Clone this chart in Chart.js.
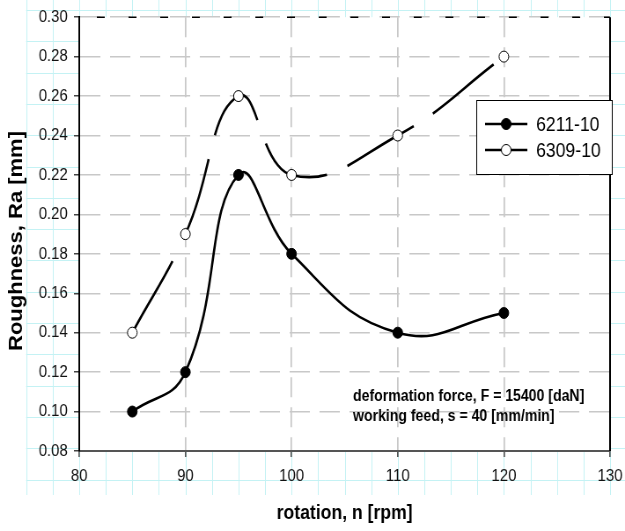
<!DOCTYPE html>
<html>
<head>
<meta charset="utf-8">
<script src="https://cdn.jsdelivr.net/npm/chart.js@4"></script>
<style>
  html, body { margin: 0; padding: 0; background: #fff; overflow: hidden; }
  /* the reference is squeezed horizontally, so draw wider and scale back */
  #wrap { width: 710px; height: 531px; transform: scaleX(0.8803); transform-origin: 0 0; }
</style>
</head>
<body>
<div id="wrap"><canvas id="chart" width="710" height="531" style="width:710px;height:531px"></canvas></div>
<script>
const rotation = [85, 90, 95, 100, 110, 120];
const ra6211 = [0.10, 0.12, 0.22, 0.18, 0.14, 0.15];
const ra6309 = [0.14, 0.19, 0.26, 0.22, 0.24, 0.28];
const seriesNames = ["6211-10", "6309-10"];
const xRange = [80, 130];
const xStep = 10;
const yRange = [0.08, 0.30];
const yStep = 0.02;
const xTitle = "rotation, n [rpm]";
const yTitle = "Roughness, Ra [mm]";
const notes = ["deformation force, F = 15400 [daN]", "working feed, s = 40 [mm/min]"];

const FONT = "'Liberation Sans', Arial, sans-serif";

// graph paper behind everything, white plot area on top of it
const paper = {
  id: "paper",
  beforeDraw(chart) {
    const { ctx, chartArea: a, scales } = chart;
    ctx.save();
    ctx.strokeStyle = "#c4f2f4";
    ctx.lineWidth = 1;
    const x0 = scales.x.getPixelForValue(75);
    for (let v = 75; v <= 130; v += 2.5) {
      const px = Math.round(scales.x.getPixelForValue(v)) + 0.5;
      ctx.beginPath(); ctx.moveTo(px, 0); ctx.lineTo(px, 495); ctx.stroke();
    }
    for (let k = 0; k < 16; k++) {
      const py = Math.round(10 + k * 31.3) + 0.5;
      ctx.beginPath(); ctx.moveTo(x0, py); ctx.lineTo(chart.width, py); ctx.stroke();
    }
    ctx.fillStyle = "#fff";
    ctx.fillRect(a.left, a.top, a.right - a.left, a.bottom - a.top);
    ctx.restore();
  },
  afterDraw(chart) {
    const { ctx, chartArea: a } = chart;
    ctx.save();
    // right border
    ctx.strokeStyle = "#000";
    ctx.lineWidth = 2;
    ctx.beginPath(); ctx.moveTo(a.right, a.top); ctx.lineTo(a.right, a.bottom); ctx.stroke();
    // little black dashes on top edge
    ctx.lineWidth = 1.5;
    ctx.setLineDash([9, 27]);
    ctx.lineDashOffset = -20;
    ctx.beginPath(); ctx.moveTo(a.left, a.top); ctx.lineTo(a.right, a.top); ctx.stroke();
    ctx.setLineDash([]);

    ctx.fillStyle = "#000";
    // y title
    ctx.save();
    ctx.translate(19, 241);
    ctx.rotate(-Math.PI / 2);
    ctx.font = "bold 22px " + FONT;
    ctx.textAlign = "center";
    ctx.textBaseline = "middle";
    ctx.fillText(yTitle, 0, 0);
    ctx.restore();
    // x title
    ctx.font = "bold 20px " + FONT;
    ctx.textAlign = "center";
    ctx.textBaseline = "middle";
    ctx.fillText(xTitle, (a.left + a.right) / 2, 513);
    // notes
    ctx.font = "bold 16px " + FONT;
    ctx.textAlign = "left";
    ctx.textBaseline = "alphabetic";
    notes.forEach((t, i) => ctx.fillText(t, 401, 401 + i * 20));

    // legend box
    ctx.fillStyle = "#fff";
    ctx.fillRect(541, 100, 154, 74);
    ctx.strokeStyle = "#000";
    ctx.lineWidth = 1;
    ctx.strokeRect(541.5, 100.5, 154, 74);
    chart.data.datasets.forEach((ds, i) => {
      const y = 124 + i * 26;
      ctx.strokeStyle = "#000";
      ctx.lineWidth = 2.6;
      ctx.beginPath(); ctx.moveTo(551, y); ctx.lineTo(599, y); ctx.stroke();
      ctx.beginPath();
      ctx.arc(575, y, 5.5, 0, Math.PI * 2);
      ctx.fillStyle = ds.pointBackgroundColor;
      ctx.fill();
      ctx.lineWidth = 1;
      ctx.stroke();
      ctx.fillStyle = "#000";
      ctx.font = "20px " + FONT;
      ctx.textBaseline = "middle";
      ctx.fillText(ds.label, 609, y + 1);
    });
    ctx.restore();
  }
};

new Chart(document.getElementById("chart"), {
  type: "line",
  data: {
    datasets: [
      {
        label: seriesNames[0],
        data: rotation.map((x, i) => ({ x, y: ra6211[i] })),
        borderColor: "#000",
        borderWidth: 2.6,
        pointRadius: 5.5,
        pointBackgroundColor: "#000",
        pointBorderColor: "#000",
        pointBorderWidth: 1,
        tension: 0.45
      },
      {
        label: seriesNames[1],
        data: rotation.map((x, i) => ({ x, y: ra6309[i] })),
        borderColor: "#000",
        borderWidth: 2.6,
        borderDash: [85, 25],
        pointRadius: 5.5,
        pointBackgroundColor: "#fff",
        pointBorderColor: "#000",
        pointBorderWidth: 1,
        tension: 0.45
      }
    ]
  },
  options: {
    responsive: false,
    animation: false,
    layout: { padding: { top: 12, right: 17, left: 0, bottom: 0 } },
    plugins: { legend: { display: false }, tooltip: { enabled: false } },
    scales: {
      x: {
        type: "linear",
        min: xRange[0],
        max: xRange[1],
        afterFit: (s) => { s.height = 80; s.paddingRight = 0; s.paddingLeft = 0; },
        ticks: { stepSize: xStep, maxRotation: 0, padding: 9, color: "#111", font: { family: FONT, size: 17 } },
        grid: { color: "#c8c8c8", lineWidth: 1.7, tickLength: 6, tickColor: "#444", tickWidth: 1.5 },
        border: { color: "#555", width: 2, dash: [20, 10] }
      },
      y: {
        min: yRange[0],
        max: yRange[1],
        afterFit: (s) => { s.width = 90; },
        ticks: { stepSize: yStep, padding: 7, color: "#111", font: { family: FONT, size: 17 }, callback: (v) => v.toFixed(2) },
        grid: { color: "#c8c8c8", lineWidth: 1.5, tickLength: 6, tickColor: "#444", tickWidth: 1.5 },
        border: { color: "#000", width: 2, dash: [23, 11] }
      }
    }
  },
  plugins: [paper]
});
</script>
</body>
</html>
